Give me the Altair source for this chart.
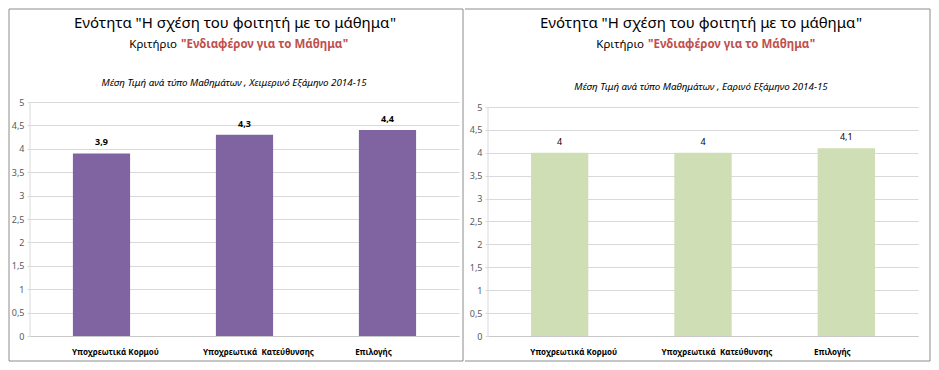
import altair as alt
import pandas as pd

# ---------------- data ----------------
categories = ["Υποχρεωτικά Κορμού", "Υποχρεωτικά  Κατεύθυνσης", "Επιλογής"]
winter_values = [3.9, 4.3, 4.4]
spring_values = [4.0, 4.0, 4.1]
y_ticks = [0.0, 0.5, 1.0, 1.5, 2.0, 2.5, 3.0, 3.5, 4.0, 4.5, 5.0]

main_title = "Ενότητα \"Η σχέση του φοιτητή με το μάθημα\""
crit_label = "Κριτήριο"
crit_name = "\"Ενδιαφέρον για το Μάθημα\""
winter_sub = "Μέση Τιμή ανά τύπο Μαθημάτων , Χειμερινό Εξάμηνο 2014-15"
spring_sub = "Μέση Τιμή ανά τύπο Μαθημάτων , Εαρινό Εξάμηνο 2014-15"

FONT = "Noto Sans"
BORDER = "#8c8c8c"
GRID = "#d9d9d9"
PURPLE = "#8064A2"
GREEN = "#D0DEB5"
RED = "#C0504D"

LW, RW, H = 429, 430, 234


def one(text):
    return pd.DataFrame({"t": [text]})


def text_layer(text, x, y, size, **kw):
    return alt.Chart(one(text)).mark_text(font=FONT, fontSize=size, baseline="alphabetic", **kw).encode(
        text="t:N", x=alt.value(x), y=alt.value(y)
    )


def bars(values, color, bold, ymax):
    df = pd.DataFrame({"cat": categories, "val": values})
    base = alt.Chart(df).transform_calculate(
        lab="replace(format(datum.val, '.1~f'), '.', ',')"
    )
    x = alt.X(
        "cat:N",
        sort=categories,
        scale=alt.Scale(paddingInner=0.6, paddingOuter=0.3),
        axis=alt.Axis(
            title=None, labelAngle=0, ticks=False, domainColor="#c8c8c8",
            labelFont=FONT, labelFontSize=8, labelFontWeight="bold",
            labelColor="black", labelPadding=12,
            labelExpr="replace(datum.label, '  ', ' \u00a0')",
            labelOffset={"condition": {"test": "datum.value === 'Επιλογής'", "value": -14}, "value": 14},
        ),
    )
    yscale = alt.Scale(domain=[0, ymax], nice=False, zero=True)
    yaxis = alt.Axis(
        title=None, values=y_ticks, tickCount=11,
        labelExpr="replace(format(datum.value, '.1~f'), '.', ',')",
        grid=True, gridColor=GRID, domain=False, tickColor=GRID,
        tickSize=3, labelColor="#595959", labelFont=FONT, labelFontSize=9,
        labelPadding=3, labelOverlap=False,
    )
    y = alt.Y("val:Q", scale=yscale, axis=yaxis)
    axis_line = alt.Chart(one("")).mark_rule(color=GRID, strokeWidth=1).encode(
        x=alt.value(0),
        y=alt.YDatum(5, type="quantitative", scale=yscale, axis=yaxis),
        y2=alt.Y2Datum(0),
    )
    b = base.mark_bar(color=color).encode(x=x, y=y)
    t = base.mark_text(
        font=FONT, fontSize=9, fontWeight="bold" if bold else "normal",
        baseline="bottom", dy=-6, color="black",
    ).encode(x=x, y=y, text="lab:N")
    return b, t, axis_line


# ---------------- left panel ----------------
lb, lt, la = bars(winter_values, PURPLE, True, 5)
left_border = alt.Chart(one("")).mark_rect(fillOpacity=0, stroke=BORDER, strokeWidth=1).encode(
    x=alt.value(-21), x2=alt.value(LW + 4), y=alt.value(-93), y2=alt.value(259)
)
left = alt.layer(
    lb, lt, la,
    left_border,
    text_layer(main_title, 205, -74, 15, align="center", color="black"),
    text_layer(crit_label, 147, -54, 11.5, align="right", color="black"),
    text_layer(crit_name, 151, -54, 11.5, align="left", color=RED, fontWeight="bold"),
    text_layer(winter_sub, 204, -16, 9.8, align="center", color="black", fontStyle="italic"),
).properties(width=LW, height=H)

# ---------------- right panel ----------------
# 5 sits 5px below the top of the plot area
rb, rt, ra = bars(spring_values, GREEN, False, 5 * H / (H - 5))


def rule(x1, x2, y1, y2):
    return alt.Chart(one("")).mark_rule(color=BORDER, strokeWidth=1).encode(
        x=alt.value(x1), x2=alt.value(x2), y=alt.value(y1), y2=alt.value(y2)
    )


right = alt.layer(
    rb, rt, ra,
    rule(-23, RW + 12, -93, -93),
    rule(-23, RW + 12, 259, 259),
    rule(RW + 12, RW + 12, -93, 259),
    text_layer(main_title, 213, -74, 15, align="center", color="black"),
    text_layer(crit_label, 156, -54, 11.5, align="right", color="black"),
    text_layer(crit_name, 160, -54, 11.5, align="left", color=RED, fontWeight="bold"),
    text_layer(spring_sub, 213, -12, 9.8, align="center", color="black", fontStyle="italic"),
).properties(width=RW, height=H)

chart = alt.hconcat(left, right, spacing=0).properties(padding=0).configure_view(strokeWidth=0)

chart.save("out.html", embed_options={"renderer": "svg", "actions": False})
